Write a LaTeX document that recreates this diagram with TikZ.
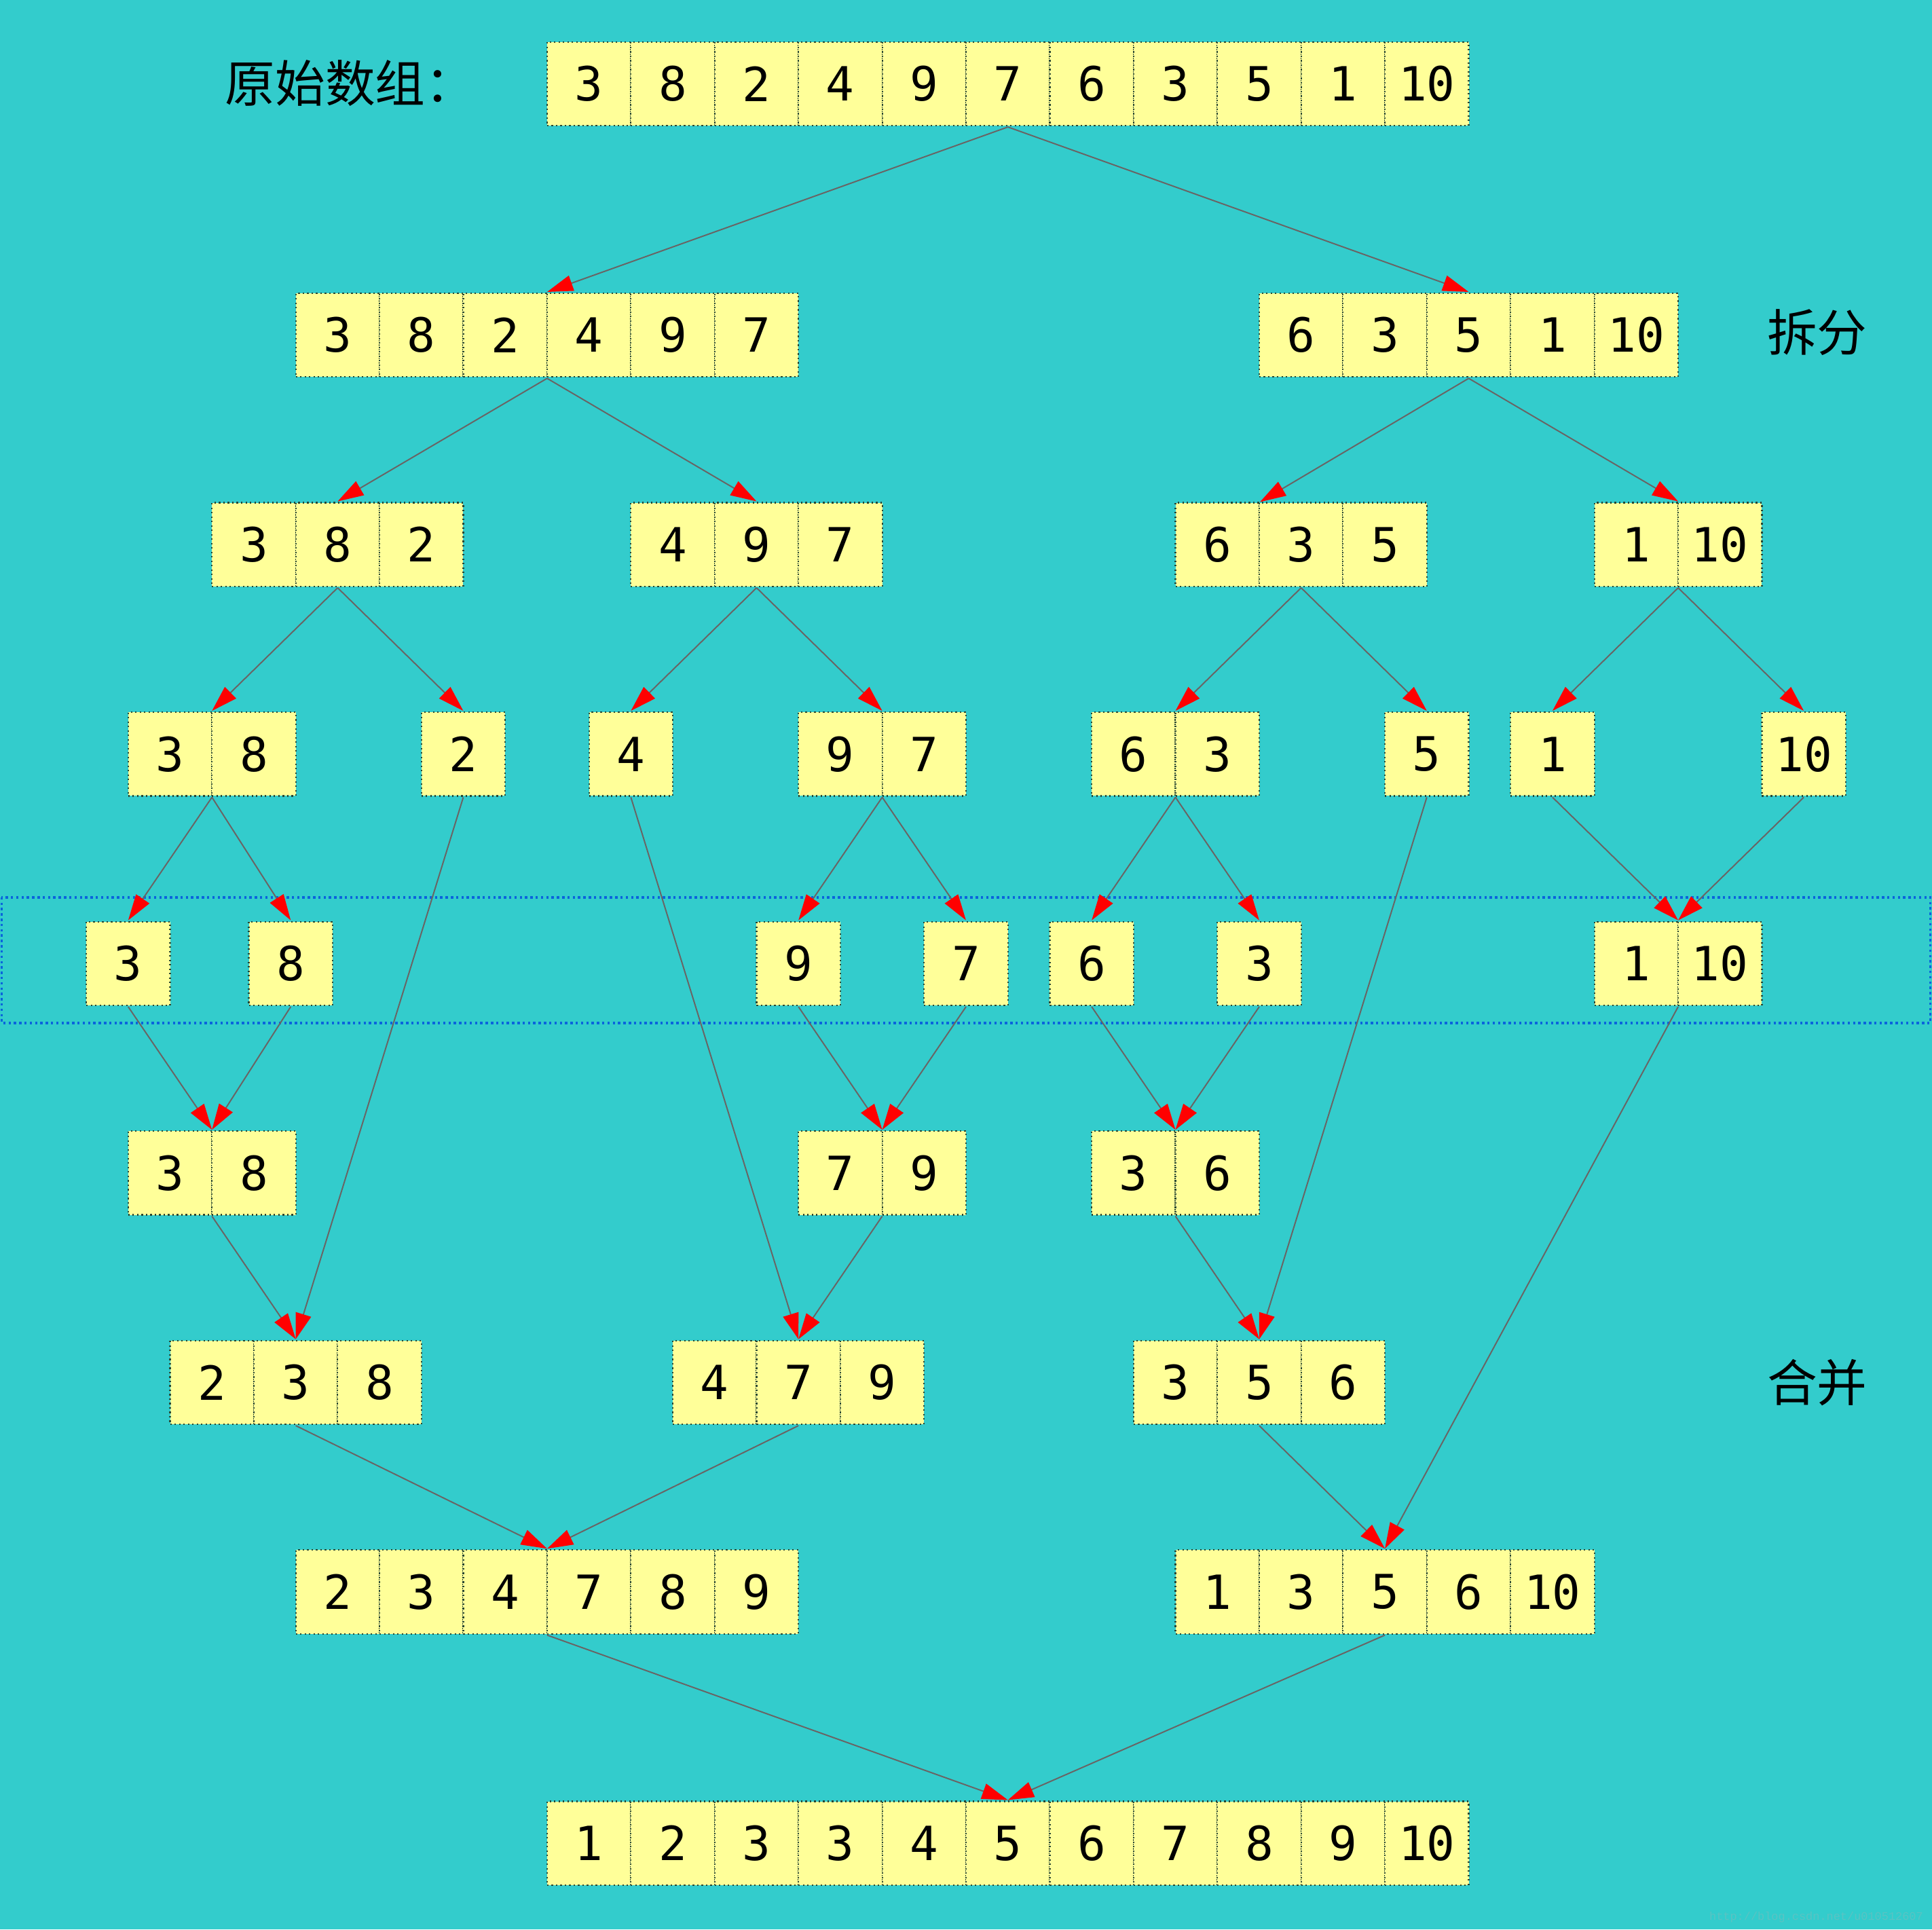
\documentclass[tikz,border=0pt]{standalone}
\usepackage{fontspec}
\newfontfamily\cellfont{DejaVu Sans Mono}
\newfontfamily\cjk{Noto Sans CJK SC}
\newfontfamily\markfont{Liberation Mono}
\usepackage{tikz}
\usetikzlibrary{arrows.meta,fit}

\definecolor{bgcyan}{RGB}{51,204,204}
\definecolor{cellyellow}{RGB}{255,255,153}
\definecolor{celledge}{RGB}{40,70,50}
\definecolor{linkgray}{RGB}{105,100,100}
\definecolor{rowblue}{RGB}{10,100,220}
\definecolor{marktext}{RGB}{90,195,195}

\tikzset{
  cell/.style={draw=celledge, densely dotted, line width=0.5pt, fill=cellyellow,
    minimum size=1cm, inner sep=0pt, font=\cellfont\fontsize{16}{16}\selectfont},
  arr/.style={inner sep=0pt},
  conn/.style={draw=linkgray, line width=0.45pt, -{Triangle[length=0.31cm,width=0.19cm,red]}},
  tag/.style={font=\cjk\fontsize{17}{17}\selectfont}
}

% one array: name, left x, top row, values
\newcommand{\numrow}[4]{%
  \foreach \v [count=\i] in {#4} {
    \node[cell] (#1-\i) at (#2+\i-0.5,-#3-0.5) {\v};
    \xdef\lastcell{\i}
  }
  \node[arr, fit=(#1-1)(#1-\lastcell)] (#1) {};
}

\begin{document}
\begin{tikzpicture}
        % background
        \fill[bgcyan] (-6.53,0.5) rectangle (16.53,-22.53);
        \useasboundingbox (-6.53,0.5) rectangle (16.53,-22.53);

        % single cells band
        \draw[rowblue, densely dotted, line width=0.8pt] (-6.51,-10.21) rectangle (16.51,-11.71);

        % labels
        \node[tag] (orig) at (-2.35,-0.49) {原始数组：};
        \node[tag] (split) at (15.16,-3.47) {拆分};
        \node[tag] (merge) at (15.16,-16.0) {合并};
        \node[font=\markfont\fontsize{3.9}{4}\selectfont, text=marktext, anchor=south east, inner sep=0pt]
                (mark) at (16.43,-22.45) {http://blog.csdn.net/u010512607};

        % splitting
        \numrow{r0}{0}{0}{3,8,2,4,9,7,6,3,5,1,10}
        \numrow{r1a}{-3}{3}{3,8,2,4,9,7}
        \numrow{r1b}{8.5}{3}{6,3,5,1,10}
        \numrow{r2a}{-4}{5.5}{3,8,2}
        \numrow{r2b}{1}{5.5}{4,9,7}
        \numrow{r2c}{7.5}{5.5}{6,3,5}
        \numrow{r2d}{12.5}{5.5}{1,10}
        \numrow{r3a}{-5}{8}{3,8}
        \numrow{r3b}{-1.5}{8}{2}
        \numrow{r3c}{0.5}{8}{4}
        \numrow{r3d}{3}{8}{9,7}
        \numrow{r3e}{6.5}{8}{6,3}
        \numrow{r3f}{10}{8}{5}
        \numrow{r3g}{11.5}{8}{1}
        \numrow{r3h}{14.5}{8}{10}
        \numrow{r4a}{-5.5}{10.5}{3}
        \numrow{r4b}{-3.56}{10.5}{8}
        \numrow{r4c}{2.5}{10.5}{9}
        \numrow{r4d}{4.5}{10.5}{7}
        \numrow{r4e}{6}{10.5}{6}
        \numrow{r4f}{8}{10.5}{3}
        \numrow{r4g}{12.5}{10.5}{1,10}

        % merging
        \numrow{r5a}{-5}{13}{3,8}
        \numrow{r5b}{3}{13}{7,9}
        \numrow{r5c}{6.5}{13}{3,6}
        \numrow{r6a}{-4.5}{15.5}{2,3,8}
        \numrow{r6b}{1.5}{15.5}{4,7,9}
        \numrow{r6c}{7}{15.5}{3,5,6}
        \numrow{r7a}{-3}{18}{2,3,4,7,8,9}
        \numrow{r7b}{7.5}{18}{1,3,5,6,10}
        \numrow{r8}{0}{21}{1,2,3,3,4,5,6,7,8,9,10}

        % arrows from parent to child
        \foreach \a/\b in {r0/r1a, r0/r1b,
            r1a/r2a, r1a/r2b, r1b/r2d,
            r2a/r3a, r2a/r3b, r2b/r3c, r2b/r3d, r2c/r3e, r2c/r3f, r2d/r3g, r2d/r3h,
            r3a/r4a, r3a/r4b, r3d/r4c, r3d/r4d, r3e/r4e, r3e/r4f, r3g/r4g, r3h/r4g,
            r4a/r5a, r4b/r5a, r4c/r5b, r4d/r5b, r4e/r5c, r4f/r5c, r4g/r7b,
            r3b/r6a, r3c/r6b, r3f/r6c,
            r5a/r6a, r5b/r6b, r5c/r6c,
            r6a/r7a, r6b/r7a, r6c/r7b,
            r7a/r8, r7b/r8}
                \draw[conn] (\a.south) -- (\b.north);
        \draw[conn] (r1b.south) -- (r2c-1.north east);
\end{tikzpicture}
\end{document}
